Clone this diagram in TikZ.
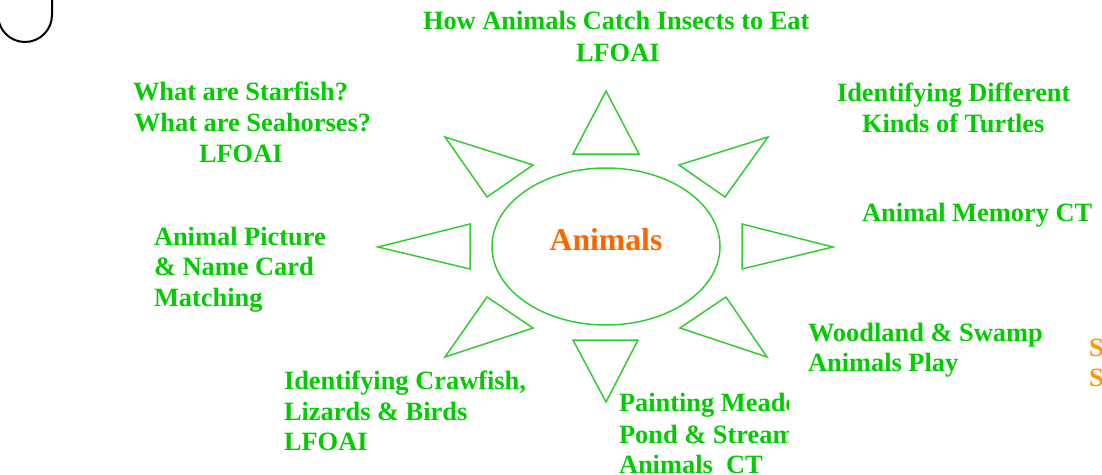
\documentclass[tikz,border=0pt]{standalone}
\usepackage{fontspec}
\setmainfont{Liberation Serif}
\usetikzlibrary{shapes.geometric}
\definecolor{txtgreen}{HTML}{00CC00}
\definecolor{linegreen}{HTML}{33CC33}
\definecolor{orangeA}{HTML}{FF6600}
\definecolor{orangeS}{HTML}{FF9900}
\tikzset{
  lbl/.style={anchor=base west, inner sep=0pt, outer sep=0pt, text=txtgreen,
    font=\fontsize{26.4}{30.7}\selectfont\bfseries},
  ray/.style={draw=linegreen, line width=1.5pt, line join=miter},
}
\begin{document}
\begin{tikzpicture}[x=1pt,y=-1pt]
\useasboundingbox (0,0) rectangle (1102,474);
% corner shape
\draw[line width=2pt, black] (52,-5) -- (52,15) arc[start angle=0,end angle=180,x radius=27,y radius=27] -- (-2,-5);
% centre
\node[draw=linegreen, line width=1.5pt, ellipse, minimum width=228pt, minimum height=157pt, inner sep=0pt] (c) at (606,246.5) {};
\node[anchor=base, inner sep=0pt, text=orangeA, font=\fontsize{31.7}{36}\selectfont\bfseries] (ctext) at (606,250) {Animals};
% rays
\draw[ray] (606,91) -- (639,154) -- (573,154) -- cycle;
\draw[ray] (445,137) -- (533,165) -- (487,197) -- cycle;
\draw[ray] (768,137) -- (679,165) -- (725,197) -- cycle;
\draw[ray] (378,247) -- (470,224) -- (470,269) -- cycle;
\draw[ray] (833,247) -- (742,224) -- (742,269) -- cycle;
\draw[ray] (487,297) -- (533,328) -- (445,357) -- cycle;
\draw[ray] (726,297) -- (680,328) -- (767,357) -- cycle;
\draw[ray] (573,340) -- (638,340) -- (606,402) -- cycle;
% labels
\node[lbl] (t1) at (423,29) {How Animals Catch Insects to Eat};
\node[lbl] (t1b) at (576,61) {LFOAI};
\node[lbl] (t2) at (133,100.7) {What are Starfish?};
\node[lbl] (t2b) at (134,131.7) {What are Seahorses?};
\node[lbl] (t2c) at (199,162.3) {LFOAI};
\node[lbl] (t3) at (837,101) {Identifying Different};
\node[lbl] (t3b) at (862,132.3) {Kinds of Turtles};
\node[lbl] (t4) at (862,221.7) {Animal Memory CT};
\node[lbl] (t5) at (154,245) {Animal Picture};
\node[lbl] (t5b) at (154,275.5) {\& Name Card};
\node[lbl] (t5c) at (154,306) {Matching};
\node[lbl] (t6) at (808,341.7) {Woodland \& Swamp};
\node[lbl] (t6b) at (808,371.7) {Animals Play};
\node[lbl] (t7) at (284,389) {Identifying Crawfish,};
\node[lbl] (t7b) at (284,420) {Lizards \& Birds};
\node[lbl] (t7c) at (284,450.7) {LFOAI};
\begin{scope}
\clip (600,380) rectangle (788,480);
\node[lbl] (t8) at (619,411.7) {Painting Meadows,};
\node[lbl] (t8b) at (619,443) {Pond \& Stream};
\node[lbl] (t8c) at (619,473.5) {Animals\ \ CT};
\end{scope}
\node[lbl, text=orangeS] (s1) at (1089,356) {S};
\node[lbl, text=orangeS] (s2) at (1089,386.7) {S};
\end{tikzpicture}
\end{document}
